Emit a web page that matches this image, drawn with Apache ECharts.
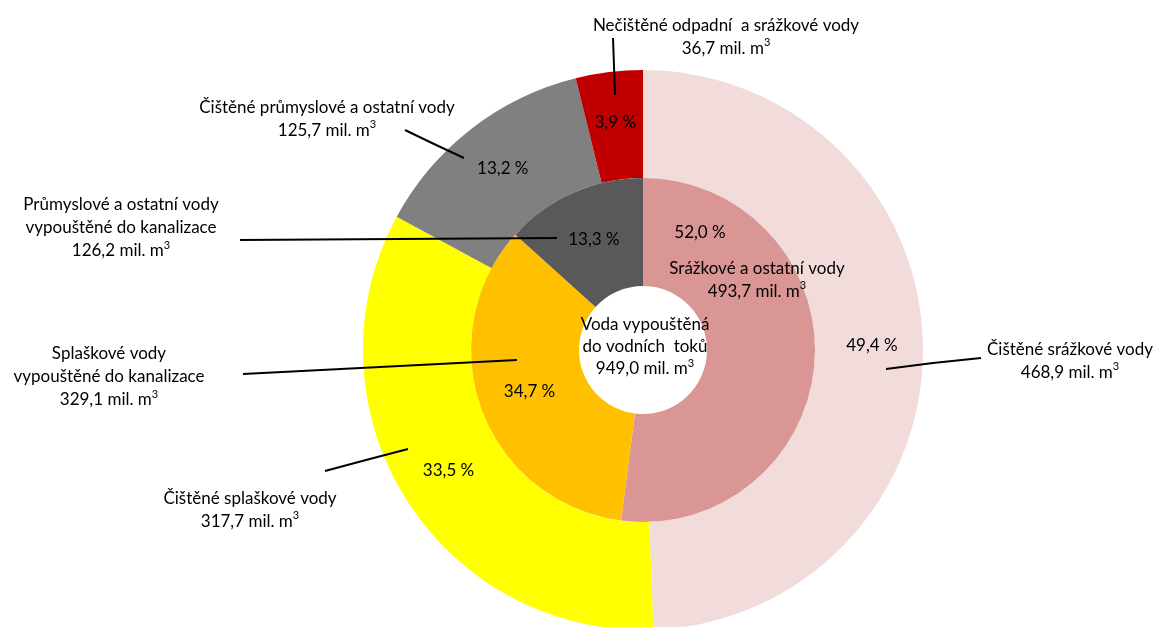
<!DOCTYPE html>
<html>
<head>
<meta charset="utf-8">
<script src="https://cdn.jsdelivr.net/npm/echarts@6/dist/echarts.min.js"></script>
<style>
  html, body { margin: 0; padding: 0; background: #ffffff; }
  #chart { width: 1158px; height: 627px; }
</style>
</head>
<body>
<div id="chart"></div>
<script>
// ---- data ----
const outerNames = ['Čištěné srážkové vody', 'Čištěné splaškové vody', 'Čištěné průmyslové a ostatní vody', 'Nečištěné odpadní  a srážkové vody'];
const outerValues = [468.9, 317.7, 125.7, 36.7];
const innerNames = ['Srážkové a ostatní vody', 'Splaškové vody\nvypouštěné do kanalizace', 'Průmyslové a ostatní vody\nvypouštěné do kanalizace'];
const innerValues = [493.7, 329.1, 126.2];
const centerTitle = 'Voda vypouštěná\ndo vodních  toků';
const unit = 'mil. m{sup|3}';

// ---- styling / layout ----
const outerColors = ['#F2DCDB', '#FFFF00', '#808080', '#C00000'];
const innerColors = ['#D99694', '#FFC000', '#595959'];
const FONT = 'Lato';
const FS = 17;
const LH = 23;
const CX = 643, CY = 350;

// name-label placement (label centre) and leader-line end inside the segment
const outerLabelLayout = [
  { x: 1070, y: 361, line: [[886, 369], [933, 363], [981, 358]] },
  { x: 250, y: 510, line: [[408, 449], [366, 460], [325, 471]] },
  { x: 327, y: 119, line: [[464, 158], [434, 144], [405, 130]] },
  { x: 726, y: 37, line: [[615, 95], [614, 66], [613, 38]] }
];
const innerLabelLayout = [
  { x: 757, y: 280, line: null },
  { x: 109, y: 377, line: [[517, 360], [380, 367], [243, 374]] },
  { x: 121, y: 228, line: [[557, 238], [398, 239], [240, 240]] }
];
const innerPctOverride = { 0: { x: 700, y: 233 } };

const fmtNum = v => v.toFixed(1).replace('.', ',');
const fmtPct = p => p.toFixed(1).replace('.', ',') + ' %';
const total = outerValues.reduce((a, b) => a + b, 0);

const richSup = {
  sup: { fontFamily: FONT, fontSize: 11, lineHeight: 17, verticalAlign: 'top', color: '#000' }
};
const textStyleBase = { fontFamily: FONT, fontSize: FS, color: '#000', lineHeight: LH };

function pieData(names, values, colors, transparent) {
  return names.map((n, i) => ({
    name: n,
    value: values[i],
    itemStyle: { color: transparent ? 'rgba(0,0,0,0)' : colors[i] }
  }));
}

const nameFormatter = p => p.name + '\n' + fmtNum(p.value) + ' ' + unit;

const option = {
  backgroundColor: '#ffffff',
  animation: false,
  series: [
    {
      type: 'pie',
      center: [CX, CY],
      radius: [172, 280],
      startAngle: 90,
      clockwise: true,
      avoidLabelOverlap: false,
      silent: true,
      data: pieData(outerNames, outerValues, outerColors, false),
      label: Object.assign({ show: true, position: 'inside', formatter: p => fmtPct(p.percent) }, textStyleBase),
      labelLine: { show: false }
    },
    {
      type: 'pie',
      center: [CX, CY],
      radius: [64, 172],
      startAngle: 90,
      clockwise: true,
      avoidLabelOverlap: false,
      silent: true,
      data: pieData(innerNames, innerValues, innerColors, false),
      label: Object.assign({ show: true, position: 'inside', formatter: p => fmtPct(p.percent) }, textStyleBase),
      labelLine: { show: false },
      labelLayout: p => {
        const o = innerPctOverride[p.dataIndex];
        return o ? { x: o.x, y: o.y, align: 'center', verticalAlign: 'middle' } : {};
      }
    },
    {
      type: 'pie',
      center: [CX, CY],
      radius: [172, 280],
      startAngle: 90,
      clockwise: true,
      avoidLabelOverlap: false,
      silent: true,
      z: 5,
      data: pieData(outerNames, outerValues, outerColors, true),
      label: Object.assign({ show: true, position: 'outside', align: 'center',
        formatter: nameFormatter, rich: richSup }, textStyleBase),
      labelLine: { show: true, lineStyle: { color: '#000', width: 2 } },
      labelLayout: p => {
        const l = outerLabelLayout[p.dataIndex];
        return { x: l.x, y: l.y, align: 'center', verticalAlign: 'middle', labelLinePoints: l.line };
      }
    },
    {
      type: 'pie',
      center: [CX, CY],
      radius: [64, 172],
      startAngle: 90,
      clockwise: true,
      avoidLabelOverlap: false,
      silent: true,
      z: 5,
      data: pieData(innerNames, innerValues, innerColors, true).map((d, i) =>
        innerLabelLayout[i].line ? d : Object.assign(d, { labelLine: { show: false } })),
      label: Object.assign({ show: true, position: 'outside', align: 'center',
        formatter: nameFormatter, rich: richSup }, textStyleBase),
      labelLine: { show: true, lineStyle: { color: '#000', width: 2 } },
      labelLayout: p => {
        const l = innerLabelLayout[p.dataIndex];
        const r = { x: l.x, y: l.y, align: 'center', verticalAlign: 'middle' };
        if (l.line) r.labelLinePoints = l.line;
        return r;
      }
    }
  ],
  graphic: [
    {
      type: 'text',
      z: 100,
      zlevel: 0,
      x: CX + 2,
      y: CY - 3,
      style: {
        text: centerTitle + '\n' + fmtNum(total) + ' ' + unit,
        fontFamily: FONT,
        fontSize: FS,
        lineHeight: 22,
        fill: '#000',
        align: 'center',
        verticalAlign: 'middle',
        rich: { sup: { fontFamily: FONT, fontSize: 11, lineHeight: 16, verticalAlign: 'top', fill: '#000' } }
      }
    }
  ]
};

const chart = echarts.init(document.getElementById('chart'), null, { renderer: 'canvas' });
chart.setOption(option);
</script>
</body>
</html>
